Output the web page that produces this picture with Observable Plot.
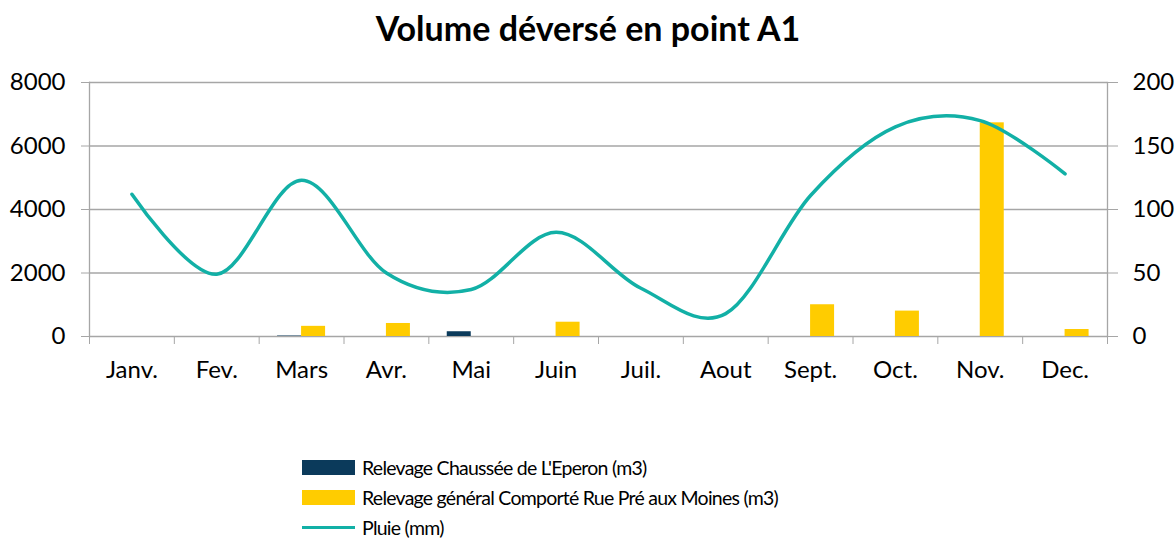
<!DOCTYPE html>
<html>
<head>
<meta charset="utf-8">
<script src="https://cdn.jsdelivr.net/npm/d3@7"></script>
<script src="https://cdn.jsdelivr.net/npm/@observablehq/plot@0.6"></script>
<style>
  body { margin: 0; background: #fff; font-family: Lato, "Open Sans", sans-serif; }
  #title { height: 62px; line-height: 56px; text-align: center; font-weight: bold; font-size: 34px; color: #000; }
  #chart svg { display: block; }
  #legend { padding-top: 66px; padding-left: 302px; font-size: 19.5px; letter-spacing: -0.75px; color: #000; }
  .row { height: 30px; display: flex; align-items: center; }
  .sw { width: 53px; height: 15px; margin-right: 7px; }
  .ln { width: 53px; height: 3px; margin-right: 7px; }
</style>
</head>
<body>
<div id="title">Volume déversé en point A1</div>
<div id="chart"></div>
<div id="legend"></div>
<script>
const months = ["Janv.","Fev.","Mars","Avr.","Mai","Juin","Juil.","Aout","Sept.","Oct.","Nov.","Dec."];
const chaussee = [0,0,15,0,150,0,0,0,0,0,0,0];
const general = [0,0,320,410,0,450,0,0,1000,800,6730,220];
const pluie = [112,49,123,50,37,82,38,18,111,165,170,128];
const leftTicks = [0,2000,4000,6000,8000];
const rightTicks = [0,50,100,150,200];
const seriesNames = ["Relevage Chaussée de L'Eperon (m3)","Relevage général Comporté Rue Pré aux Moines (m3)","Pluie (mm)"];
const colors = ["#0B3A5B","#FFCC00","#12B0A6"];

const W = 1176, ML = 89, MR = 69, MT = 20, MB = 50, H = 324;
const bw = (W - ML - MR) / months.length;
const barW = 24;
const ratio = leftTicks[leftTicks.length-1] / rightTicks[rightTicks.length-1];

const rows = months.map((m, i) => ({month: m, chaussee: chaussee[i], general: general[i], pluie: pluie[i]}));
const grid = "#a6a6a6";

const chart = Plot.plot({
  width: W, height: H,
  marginLeft: ML, marginRight: MR, marginTop: MT, marginBottom: MB,
  style: {fontFamily: "Lato, 'Open Sans', sans-serif", fontSize: "24px", color: "#000", background: "#fff"},
  x: {type: "band", domain: months, padding: 0, round: false, axis: null, label: null},
  y: {domain: [0, 8000], axis: null, label: null},
  marks: [
    Plot.gridY(leftTicks, {stroke: grid, strokeOpacity: 1, strokeWidth: 1.3}),
    Plot.frame({anchor: "left", stroke: grid, strokeWidth: 1.3}),
    Plot.frame({anchor: "right", stroke: grid, strokeWidth: 1.3}),
    Plot.axisY(leftTicks, {anchor: "left", label: null, tickSize: 8, tickPadding: 16, stroke: grid, fill: "#000", fontSize: 24, tickFormat: d => String(d)}),
    Plot.axisY(leftTicks, {anchor: "right", label: null, tickSize: 10, tickPadding: 15, stroke: grid, fill: "#000", fontSize: 24, tickFormat: d => String(d / ratio)}),
    Plot.axisX(months, {anchor: "bottom", label: null, tickSize: 8, dx: -bw / 2, stroke: grid, tickFormat: () => ""}),
    Plot.axisX([months[months.length-1]], {anchor: "bottom", label: null, tickSize: 8, dx: bw / 2, stroke: grid, tickFormat: () => ""}),
    Plot.axisX(months, {anchor: "bottom", label: null, tickSize: 0, tickPadding: 24, fill: "#000", fontSize: 24}),
    Plot.barY(rows, {x: "month", y: "chaussee", fill: colors[0], insetLeft: bw / 2 - barW, insetRight: bw / 2}),
    Plot.barY(rows, {x: "month", y: "general", fill: colors[1], insetLeft: bw / 2, insetRight: bw / 2 - barW}),
    Plot.line(rows, {x: "month", y: d => d.pluie * ratio, stroke: colors[2], strokeWidth: 3.5, curve: "cardinal"})
  ]
});
document.getElementById("chart").appendChild(chart);

const legend = document.getElementById("legend");
seriesNames.forEach((name, i) => {
  const row = document.createElement("div");
  row.className = "row";
  const sw = document.createElement("div");
  sw.className = i < 2 ? "sw" : "ln";
  sw.style.background = colors[i];
  const t = document.createElement("span");
  t.textContent = name;
  row.appendChild(sw); row.appendChild(t);
  legend.appendChild(row);
});
</script>
</body>
</html>
